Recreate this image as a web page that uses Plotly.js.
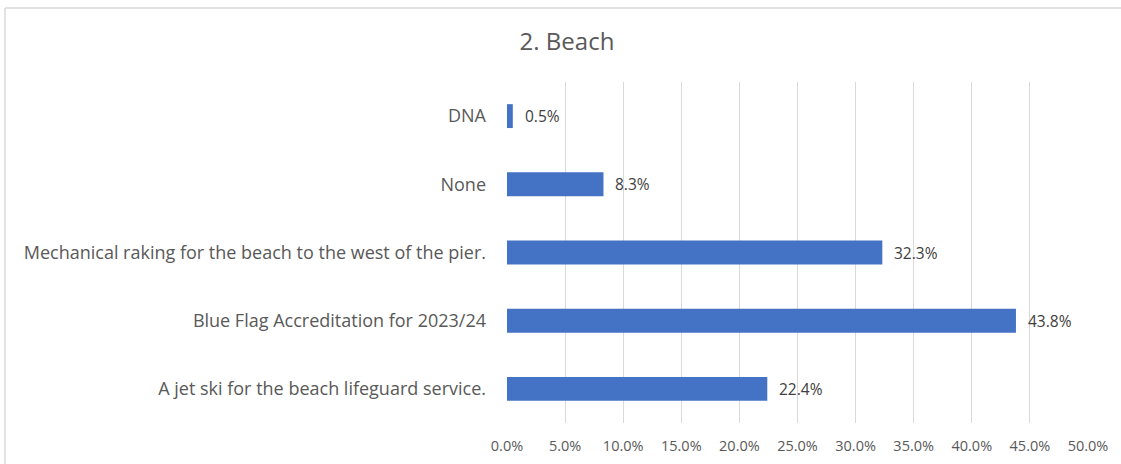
<!DOCTYPE html>
<html>
<head>
<meta charset="utf-8">
<script src="https://cdn.plot.ly/plotly-3.0.1.min.js"></script>
<style>
  html, body { margin: 0; padding: 0; background: #ffffff; }
  #chart { width: 1121px; height: 464px; }
</style>
</head>
<body>
<div id="chart"></div>
<script>
// Data (top to bottom as shown in the chart)
const categories = [
  "DNA",
  "None",
  "Mechanical raking for the beach to the west of the pier.",
  "Blue Flag Accreditation for 2023/24",
  "A jet ski for the beach lifeguard service."
];
const values = [0.005, 0.083, 0.323, 0.438, 0.224];
const valueLabels = ["0.5%", "8.3%", "32.3%", "43.8%", "22.4%"];
const tickValues = [0, 0.05, 0.10, 0.15, 0.20, 0.25, 0.30, 0.35, 0.40, 0.45, 0.50];
const tickLabels = ["0.0%", "5.0%", "10.0%", "15.0%", "20.0%", "25.0%", "30.0%", "35.0%", "40.0%", "45.0%", "50.0%"];
const chartTitle = "2. Beach";

const W = 1121, H = 464;
const margin = { l: 507, r: 33, t: 82, b: 41, pad: 0 };
const plotW = W - margin.l - margin.r;
const plotH = H - margin.t - margin.b;

const FONT = "Open Sans, Noto Sans, sans-serif";

const trace = {
  type: "bar",
  orientation: "h",
  x: values,
  y: categories,
  marker: { color: "#4472C4", line: { width: 0 } },
  hoverinfo: "skip"
};

const annotations = values.map((v, i) => ({
  x: v,
  y: categories[i],
  xref: "x",
  yref: "y",
  text: valueLabels[i],
  showarrow: false,
  xanchor: "left",
  yanchor: "middle",
  xshift: 10,
  font: { family: FONT, size: 15.5, color: "#404040" }
}));

// Light chart-area border (top and left edges visible in the reference)
const bx = (px) => (px - margin.l) / plotW;
const by = (py) => 1 - (py - margin.t) / plotH;
const shapes = [
  { type: "line", xref: "paper", yref: "paper", x0: bx(5), x1: bx(W + 5), y0: by(8), y1: by(8),
    line: { color: "#d9d9d9", width: 1.5 } },
  { type: "line", xref: "paper", yref: "paper", x0: bx(5), x1: bx(5), y0: by(8), y1: by(H + 5),
    line: { color: "#d9d9d9", width: 1.5 } }
];

const layout = {
  width: W,
  height: H,
  margin: margin,
  paper_bgcolor: "#ffffff",
  plot_bgcolor: "#ffffff",
  showlegend: false,
  bargap: 0.65,
  title: {
    text: chartTitle,
    x: 567 / W,
    xref: "container",
    xanchor: "center",
    y: 1 - 42 / H,
    yref: "container",
    yanchor: "middle",
    font: { family: FONT, size: 24, color: "#595959" }
  },
  xaxis: {
    range: [0, 0.5],
    tickvals: tickValues,
    ticktext: tickLabels,
    showgrid: true,
    gridcolor: "#d9d9d9",
    gridwidth: 1,
    zeroline: false,
    showline: false,
    ticks: "",
    ticklabelstandoff: 12,
    tickfont: { family: FONT, size: 14.5, color: "#595959" },
    fixedrange: true
  },
  yaxis: {
    autorange: "reversed",
    showgrid: false,
    zeroline: false,
    showline: false,
    ticks: "",
    ticklabelstandoff: 20,
    tickfont: { family: FONT, size: 18, color: "#595959" },
    fixedrange: true
  },
  annotations: annotations,
  shapes: shapes
};

Plotly.newPlot("chart", [trace], layout, { displayModeBar: false, staticPlot: true });
</script>
</body>
</html>
